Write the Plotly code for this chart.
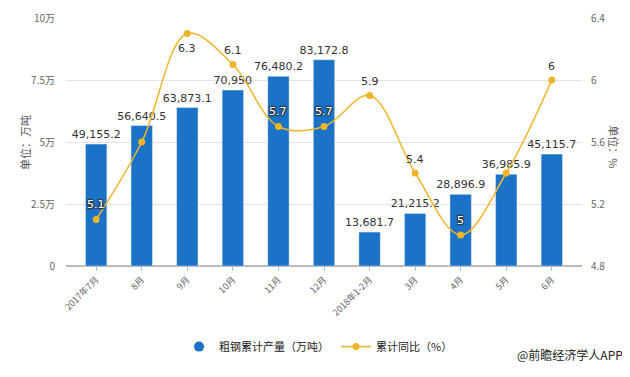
import plotly.graph_objects as go

categories = ["2017年7月", "8月", "9月", "10月", "11月", "12月", "2018年1-2月", "3月", "4月", "5月", "6月"]
output = [49155.2, 56640.5, 63873.1, 70950, 76480.2, 83172.8, 13681.7, 21215.2, 28896.9, 36985.9, 45115.7]
growth = [5.1, 5.6, 6.3, 6.1, 5.7, 5.7, 5.9, 5.4, 5.0, 5.4, 6.0]
growth_labels = ["5.1", "", "6.3", "6.1", "5.7", "5.7", "5.9", "5.4", "5", "", "6"]
label_style = ["in", "", "below", "above", "in", "in", "above", "above", "in", "", "above"]
left_ticks = [0, 25000, 50000, 75000, 100000]
left_tick_text = ["0", "2.5万", "5万", "7.5万", "10万"]
right_ticks = [4.8, 5.2, 5.6, 6.0, 6.4]
right_tick_text = ["4.8", "5.2", "5.6", "6", "6.4"]

BAR = "#1a73c6"
LINE = "#f0b429"


def fmt(v):
    s = f"{v:,.1f}"
    return s[:-2] if s.endswith(".0") else s


fig = go.Figure()
fig.add_trace(go.Bar(
    x=categories, y=output, name="粗钢累计产量（万吨）", showlegend=False,
    marker_color=BAR, width=0.47,
    text=[fmt(v) for v in output], textposition="outside", cliponaxis=False, constraintext="none",
    textfont=dict(family="DejaVu Sans", size=11, color="#333333"),
))
# legend entry with a round marker, like the reference
fig.add_trace(go.Scatter(
    x=[None], y=[None], mode="markers", name="粗钢累计产量（万吨）",
    marker=dict(color=BAR, size=10, symbol="circle"),
))
fig.add_trace(go.Scatter(
    x=categories, y=growth, yaxis="y2", name="累计同比（%）",
    mode="lines+markers", line=dict(color=LINE, width=1.5, shape="spline", smoothing=1.0),
    marker=dict(color=LINE, size=7), cliponaxis=False,
))

annotations = []
shadow = "1px 1px 1px #333, -1px -1px 1px #333, 1px -1px 1px #333, -1px 1px 1px #333"
for c, g, t, s in zip(categories, growth, growth_labels, label_style):
    if not t:
        continue
    if s == "in":
        annotations.append(dict(x=c, y=g, yref="y2", xref="x", text=t, showarrow=False, yshift=15,
                                font=dict(family="DejaVu Sans", size=11, color="white", shadow=shadow)))
    elif s == "above":
        annotations.append(dict(x=c, y=g, yref="y2", xref="x", text=t, showarrow=False, yshift=14,
                                font=dict(family="DejaVu Sans", size=11, color="#333333")))
    else:
        annotations.append(dict(x=c, y=g, yref="y2", xref="x", text=t, showarrow=False, yshift=-15,
                                font=dict(family="DejaVu Sans", size=11, color="#333333")))

annotations += [
    dict(xref="paper", yref="paper", x=-0.099, y=0.5, text="单位：万吨", textangle=-90, showarrow=False,
         font=dict(size=11, color="#555555")),
    dict(xref="paper", yref="paper", x=1.081, y=0.48, text="单位：%", textangle=90, showarrow=False,
         font=dict(size=11, color="#555555")),
    dict(xref="paper", yref="paper", x=1.083, y=-0.399, xanchor="right", text="@前瞻经济学人APP", showarrow=False,
         font=dict(size=12, color="#222222")),
]

fig.update_layout(
    width=622, height=369,
    margin=dict(l=58, r=48, t=10, b=111, autoexpand=False),
    plot_bgcolor="white", paper_bgcolor="white",
    font=dict(family="Noto Sans CJK SC, DejaVu Sans", color="#555555"),
    showlegend=True,
    legend=dict(orientation="h", x=0.219, xanchor="left", y=-0.325, yanchor="middle",
                font=dict(size=11, color="#222222"), entrywidth=112),
    xaxis=dict(type="category", tickangle=-45, tickfont=dict(size=9, color="#666666"),
               showline=True, linecolor="#bbbbbb", ticks="outside", ticklen=4, tickcolor="#bbbbbb",
               showgrid=False, automargin=False),
    yaxis=dict(range=[0, 100000], tickvals=left_ticks, ticktext=left_tick_text,
               tickfont=dict(size=10, color="#666666"), showgrid=True, gridcolor="#e3e3e3",
               zeroline=True, zerolinecolor="#bbbbbb", ticks="", ticklabelstandoff=10, automargin=False),
    yaxis2=dict(range=[4.8, 6.4], tickvals=right_ticks, ticktext=right_tick_text, overlaying="y", side="right",
                tickfont=dict(size=10, color="#666666"), showgrid=False, zeroline=False, ticklabelstandoff=8,
                automargin=False),
    annotations=annotations,
)

fig.write_html("out.html")
